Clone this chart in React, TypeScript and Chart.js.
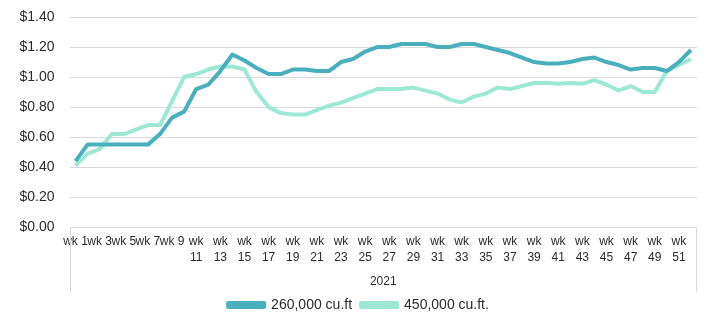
import React, { useEffect, useRef } from "react";
import { Chart, registerables } from "chart.js";

Chart.register(...registerables);

const weeks: string[] = Array.from({ length: 52 }, (_, i) => `wk ${i + 1}`);

const series260: number[] = [
  0.44, 0.55, 0.55, 0.55, 0.55, 0.55, 0.55, 0.62, 0.73, 0.77,
  0.92, 0.95, 1.04, 1.15, 1.11, 1.06, 1.02, 1.02, 1.05, 1.05,
  1.04, 1.04, 1.10, 1.12, 1.17, 1.20, 1.20, 1.22, 1.22, 1.22,
  1.20, 1.20, 1.22, 1.22, 1.20, 1.18, 1.16, 1.13, 1.10, 1.09,
  1.09, 1.10, 1.12, 1.13, 1.10, 1.08, 1.05, 1.06, 1.06, 1.04,
  1.10, 1.18,
];

const series450: number[] = [
  0.41, 0.49, 0.52, 0.62, 0.62, 0.65, 0.68, 0.68, 0.84, 1.00,
  1.02, 1.05, 1.07, 1.07, 1.05, 0.90, 0.80, 0.76, 0.75, 0.75,
  0.78, 0.81, 0.83, 0.86, 0.89, 0.92, 0.92, 0.92, 0.93, 0.91,
  0.89, 0.85, 0.83, 0.87, 0.89, 0.93, 0.92, 0.94, 0.96, 0.96,
  0.955, 0.96, 0.955, 0.98, 0.95, 0.91, 0.94, 0.90, 0.90, 1.04,
  1.08, 1.12,
];

const seriesNames: string[] = ["260,000 cu.ft", "450,000 cu.ft."];
const axisGroupLabel = "2021";

const DARK = "#4aafbc";
const LIGHT = "#9de8d5";
const TEXT = "#2b2b2b";
const GRID = "#d9d9d9";
const FONT = "'Liberation Sans', Arial, sans-serif";

const groupLines = {
  id: "groupLines",
  afterDraw(chart: any) {
    const { ctx, chartArea } = chart;
    ctx.save();
    ctx.strokeStyle = GRID;
    ctx.lineWidth = 1;
    ctx.beginPath();
    const l = Math.round(chartArea.left) + 0.5;
    const r = Math.round(chartArea.right) - 0.5;
    const b = chartArea.bottom;
    ctx.moveTo(l, b);
    ctx.lineTo(l, b + 65);
    ctx.moveTo(r, b);
    ctx.lineTo(r, b + 65);
    ctx.stroke();
    ctx.restore();
  },
};

export default function App() {
  const ref = useRef<HTMLCanvasElement | null>(null);

  useEffect(() => {
    if (!ref.current) return;
    const chart = new Chart(ref.current, {
      type: "line",
      data: {
        labels: weeks,
        datasets: [
          {
            label: seriesNames[0],
            data: series260,
            borderColor: DARK,
            backgroundColor: DARK,
            borderWidth: 4,
            pointRadius: 0,
            tension: 0,
            borderJoinStyle: "round",
          },
          {
            label: seriesNames[1],
            data: series450,
            borderColor: LIGHT,
            backgroundColor: LIGHT,
            borderWidth: 4,
            pointRadius: 0,
            tension: 0,
            borderJoinStyle: "round",
          },
        ],
      },
      options: {
        animation: false,
        responsive: true,
        maintainAspectRatio: false,
        layout: { padding: { left: 20, right: 20, top: 17, bottom: 0 } },
        plugins: {
          legend: {
            position: "bottom",
            labels: {
              boxWidth: 36,
              boxHeight: 4,
              padding: 9,
              color: TEXT,
              font: { family: FONT, size: 14 },
            },
          },
          tooltip: { enabled: false },
        },
        scales: {
          x: {
            offset: true,
            grid: { display: false, drawTicks: false },
            border: { display: false },
            ticks: {
              autoSkip: false,
              maxRotation: 0,
              minRotation: 0,
              padding: 6,
              color: TEXT,
              font: { family: FONT, size: 12, lineHeight: 1.35 },
              callback: (_v: any, i: number) => {
                if (i % 2 !== 0) return "";
                const w = weeks[i];
                const n = parseInt(w.split(" ")[1], 10);
                return n >= 11 ? w.split(" ") : w;
              },
            },
            title: {
              display: true,
              text: axisGroupLabel,
              color: TEXT,
              font: { family: FONT, size: 12 },
              padding: { top: 3, bottom: 0 },
            },
          },
          y: {
            min: 0,
            max: 1.4,
            border: { display: false },
            grid: { color: GRID, drawTicks: true, tickLength: 15, tickColor: "rgba(0,0,0,0)" },
            afterFit: (scale: any) => {
              scale.width = 49.5;
            },
            ticks: {
              stepSize: 0.2,
              padding: 0,
              color: TEXT,
              font: { family: FONT, size: 14 },
              callback: (v: any) => "$" + Number(v).toFixed(2),
            },
          },
        },
      },
      plugins: [groupLines],
    });
    return () => chart.destroy();
  }, []);

  return (
    <div style={{ position: "absolute", left: 0, top: 0, width: 717, height: 322, background: "#fff" }}>
      <canvas ref={ref} />
    </div>
  );
}
